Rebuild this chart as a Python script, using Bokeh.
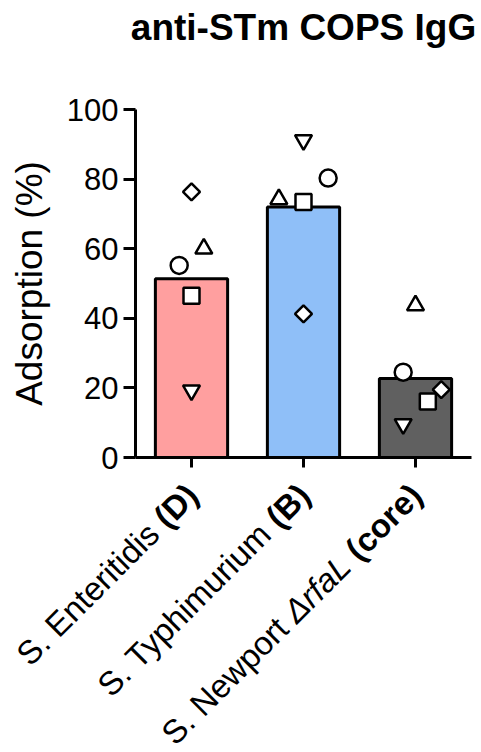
import math
from bokeh.plotting import figure
from bokeh.models import Range1d, FixedTicker
from bokeh.layouts import column
from bokeh.core.properties import value
from bokeh.embed import file_html
from bokeh.resources import INLINE

# ---------------- data ----------------
categories = ["S. Enteritidis (D)", "S. Typhimurium (B)", "S. Newport \u0394rfaL (core)"]
label_parts = [
    [("S. Enteritidis", "normal"), ("(D)", "bold")],
    [("S. Typhimurium", "normal"), ("(B)", "bold")],
    [("S. Newport", "normal"), ("\u0394rfaL", "italic"), ("(core)", "bold")],
]
bar_means = [51.4, 72.0, 22.7]
bar_colors = ["#FF9F9F", "#8FBFF8", "#606060"]

circle_vals = [55.2, 80.3, 24.5]
square_vals = [46.5, 73.4, 16.1]
triangle_vals = [60.0, 74.2, 43.7]
inv_triangle_vals = [19.3, 91.2, 9.6]
diamond_vals = [76.3, 41.3, 19.5]

circle_jitter = [-0.11, 0.22, -0.11]
square_jitter = [0.0, 0.0, 0.11]
triangle_jitter = [0.11, -0.22, 0.0]
inv_triangle_jitter = [0.0, 0.0, -0.11]
diamond_jitter = [0.0, 0.0, 0.23]

y_ticks = [0, 20, 40, 60, 80, 100]
title_text = "anti-STm COPS IgG"
y_label = "Adsorption (%)"

# ---------------- layout ----------------
W, H = 481, 752
FONT = "Liberation Sans"
BL, BR = 135, 10
H0 = 94             # title strip
TOP = 15            # top border of main figure
AX_H = 348          # pixels for 0..100
BOT = 20            # bottom border of main figure
H1 = TOP + AX_H + BOT
H2 = H - H0 - H1
frame_w = W - BL - BR
n = len(categories)
x0, x1 = -0.5, n - 0.5
px_x = frame_w / (x1 - x0)

# ---- title strip ----
p0 = figure(width=W, height=H0, output_backend="svg", toolbar_location=None,
            x_range=Range1d(0, W), y_range=Range1d(-H0, 0),
            min_border_left=0, min_border_right=0, min_border_top=0, min_border_bottom=0,
            x_axis_location=None, y_axis_location=None, title=None)
p0.frame_align = False
p0.outline_line_color = None
p0.grid.visible = False
p0.text(x=[BL + frame_w / 2.0], y=[-27], text=[title_text],
        text_font=value(FONT), text_font_size=value("37px"), text_font_style=value("bold"),
        text_align=value("center"), text_baseline=value("alphabetic"), text_color="black")

# ---- main chart ----
p = figure(width=W, height=H1, output_backend="svg", toolbar_location=None,
           x_range=Range1d(x0, x1), y_range=Range1d(y_ticks[0], y_ticks[-1]),
           min_border_left=BL, min_border_right=BR, min_border_top=TOP, min_border_bottom=BOT,
           title=None)
p.frame_align = False
p.outline_line_color = None
p.xgrid.visible = False
p.ygrid.visible = False

xs = list(range(n))
p.vbar(x=xs, top=bar_means, bottom=0, width=0.645, fill_color=bar_colors,
       line_color="black", line_width=3)

def jit(vals_j):
    return [i + j for i, j in zip(xs, vals_j)]

mk = dict(fill_color="white", line_color="black", line_width=2.5)
p.scatter(jit(circle_jitter), circle_vals, marker="circle", size=17, **mk)
p.scatter(jit(square_jitter), square_vals, marker="square", size=16, **mk)
p.scatter(jit(triangle_jitter), triangle_vals, marker="triangle", size=17, **mk)
p.scatter(jit(inv_triangle_jitter), inv_triangle_vals, marker="inverted_triangle", size=17, **mk)
p.scatter(jit(diamond_jitter), diamond_vals, marker="square", angle=math.pi / 4, size=12, **mk)

ya = p.yaxis[0]
ya.ticker = FixedTicker(ticks=y_ticks)
ya.minor_tick_line_color = None
ya.major_tick_in = 0
ya.major_tick_out = 12
ya.axis_line_width = 3
ya.major_tick_line_width = 3
ya.major_label_text_font = FONT
ya.major_label_text_font_size = "31px"
ya.major_label_text_color = "black"
ya.major_label_standoff = 5
ya.axis_label = y_label
ya.axis_label_text_font = FONT
ya.axis_label_text_font_size = "37px"
ya.axis_label_text_font_style = "normal"
ya.axis_label_text_color = "black"
ya.axis_label_standoff = 14

xa = p.xaxis[0]
xa.ticker = FixedTicker(ticks=xs)
xa.major_label_overrides = {i: "" for i in xs}
xa.major_label_text_font_size = "1px"
xa.major_label_standoff = 0
xa.minor_tick_line_color = None
xa.major_tick_in = 0
xa.major_tick_out = 10
xa.axis_line_width = 3
xa.major_tick_line_width = 3

# ---- rotated category labels ----
p2 = figure(width=W, height=H2, output_backend="svg", toolbar_location=None,
            x_range=Range1d(x0 - BL / px_x, x1 + BR / px_x), y_range=Range1d(-H2, 0),
            min_border_left=0, min_border_right=0, min_border_top=0, min_border_bottom=0,
            x_axis_location=None, y_axis_location=None, title=None)
p2.frame_align = False
p2.outline_line_color = None
p2.grid.visible = False

regular = {' ': 278, '.': 278, '(': 333, ')': 333, 'S': 667, 'E': 667, 'n': 556, 't': 278,
           'e': 556, 'r': 333, 'i': 222, 'd': 556, 's': 500, 'T': 611, 'y': 500, 'p': 556,
           'h': 556, 'm': 833, 'u': 556, 'N': 722, 'w': 722, 'o': 556, 'a': 556, 'f': 278,
           'L': 556, '\u0394': 668, 'D': 722, 'B': 722, 'c': 500}
bold = dict(regular)
bold.update({'D': 722, 'B': 722, 'c': 556, 'o': 611, 'r': 389, 'e': 556})

LFS = 33
def text_w(s, style):
    tab = bold if style == "bold" else regular
    return sum(tab.get(ch, 556) for ch in s) / 1000.0 * LFS

ang = math.pi / 4
anchor_y = -(489 - (H0 + H1))
gap = 0.278 * LFS
for style_name in ("normal", "bold", "italic"):
    lx, ly, lt = [], [], []
    for i, parts in enumerate(label_parts):
        d = 0.0
        for k in range(len(parts) - 1, -1, -1):
            txt, style = parts[k]
            if style == style_name:
                lx.append(i + 0.005 - d * math.cos(ang) / px_x)
                ly.append(anchor_y - d * math.sin(ang))
                lt.append(txt)
            d += text_w(txt, style) + gap
    if lt:
        p2.text(x=lx, y=ly, text=lt, angle=ang, text_font=value(FONT),
                text_font_size=value(f"{LFS}px"), text_font_style=value(style_name),
                text_align=value("right"), text_baseline=value("middle"), text_color="black")

layout = column(p0, p, p2, spacing=0)
open("out.html", "w").write(file_html(layout, INLINE))
